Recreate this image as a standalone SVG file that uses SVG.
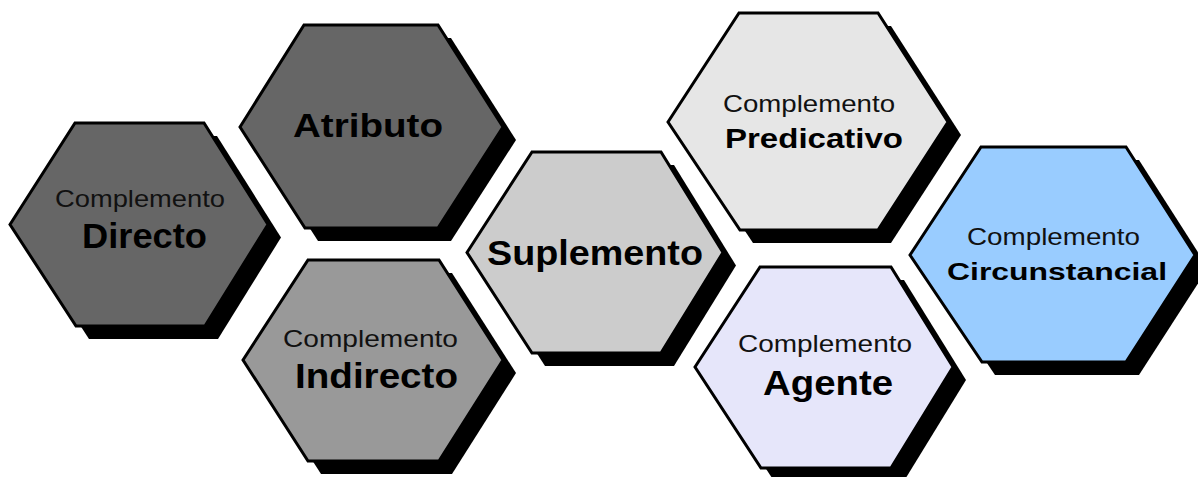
<svg xmlns="http://www.w3.org/2000/svg" width="1198" height="477" viewBox="0 0 1198 477">
<defs>
<style>
.shadow{fill:#000;stroke:none}
.hex{stroke:#000;stroke-width:3;stroke-linejoin:miter}
.sm{font-family:"Liberation Sans",Arial,sans-serif;font-size:24px;fill:#111}
.bg{font-family:"Liberation Sans",Arial,sans-serif;font-weight:bold;fill:#000}
</style>
</defs>
<rect width="1198" height="477" fill="#fff"/>
<g id="directo">
<polygon class="shadow" transform="translate(13,13)" points="10,224.5 75,123 204,123 268,224.5 205,326 76,326"/>
<polygon class="hex" fill="#666666" points="10,224.5 75,123 204,123 268,224.5 205,326 76,326"/>
<text class="sm" x="55" y="207" textLength="170" lengthAdjust="spacingAndGlyphs">Complemento</text>
<text class="bg" x="82" y="248" font-size="35" textLength="125" lengthAdjust="spacingAndGlyphs">Directo</text>
</g>
<g id="atributo">
<polygon class="shadow" transform="translate(13,13)" points="240,127 304,25 438,25 503,127 438,228 305,228"/>
<polygon class="hex" fill="#666666" points="240,127 304,25 438,25 503,127 438,228 305,228"/>
<text class="bg" x="293" y="137" font-size="34" textLength="150" lengthAdjust="spacingAndGlyphs">Atributo</text>
</g>
<g id="indirecto">
<polygon class="shadow" transform="translate(13,13)" points="243,360 308,260 439,260 503,360 439,461 308,461"/>
<polygon class="hex" fill="#999999" points="243,360 308,260 439,260 503,360 439,461 308,461"/>
<text class="sm" x="283" y="347" textLength="175" lengthAdjust="spacingAndGlyphs">Complemento</text>
<text class="bg" x="295" y="388" font-size="35" textLength="163" lengthAdjust="spacingAndGlyphs">Indirecto</text>
</g>
<g id="suplemento">
<polygon class="shadow" transform="translate(13,13)" points="467,252.5 532,152 661,152 723,252.5 661,353 532,353"/>
<polygon class="hex" fill="#cccccc" points="467,252.5 532,152 661,152 723,252.5 661,353 532,353"/>
<text class="bg" x="487" y="265" font-size="35" textLength="216" lengthAdjust="spacingAndGlyphs">Suplemento</text>
</g>
<g id="predicativo">
<polygon class="shadow" transform="translate(13,13)" points="668,122 739,13 878,13 948,122 878,230 740,230"/>
<polygon class="hex" fill="#e6e6e6" points="668,122 739,13 878,13 948,122 878,230 740,230"/>
<text class="sm" x="723" y="112" textLength="172" lengthAdjust="spacingAndGlyphs">Complemento</text>
<text class="bg" x="725" y="148" font-size="28" textLength="178" lengthAdjust="spacingAndGlyphs">Predicativo</text>
</g>
<g id="agente">
<polygon class="shadow" transform="translate(13,13)" points="695,367 760,267 891,267 953,367 891,468 761,468"/>
<polygon class="hex" fill="#e6e6fa" points="695,367 760,267 891,267 953,367 891,468 761,468"/>
<text class="sm" x="738" y="352" textLength="174" lengthAdjust="spacingAndGlyphs">Complemento</text>
<text class="bg" x="763" y="395" font-size="35" textLength="130" lengthAdjust="spacingAndGlyphs">Agente</text>
</g>
<g id="circunstancial">
<polygon class="shadow" transform="translate(13,13)" points="910,255 981,147 1126,147 1195,255 1126,362 982,362"/>
<polygon class="hex" fill="#99ccff" points="910,255 981,147 1126,147 1195,255 1126,362 982,362"/>
<text class="sm" x="967" y="245" textLength="173" lengthAdjust="spacingAndGlyphs">Complemento</text>
<text class="bg" x="947" y="280" font-size="24" textLength="220" lengthAdjust="spacingAndGlyphs">Circunstancial</text>
</g>
</svg>
